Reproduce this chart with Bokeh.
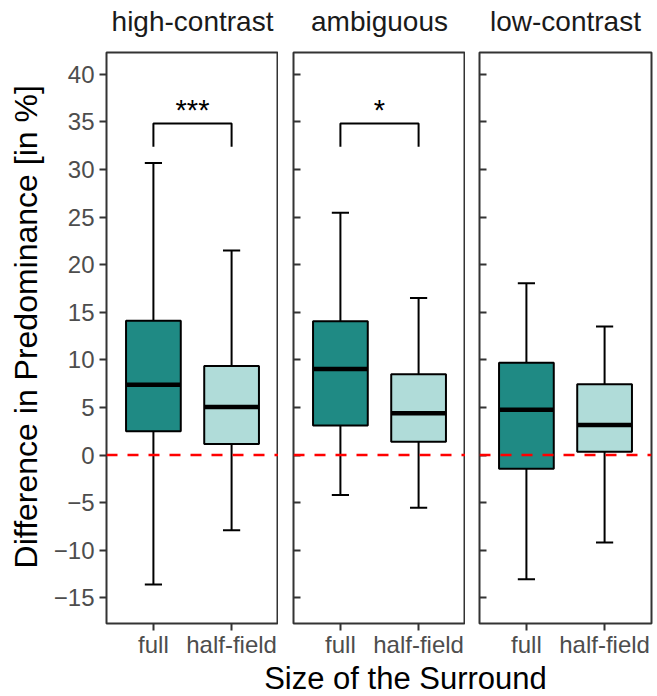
from bokeh.plotting import figure
from bokeh.layouts import row, column
from bokeh.models import ColumnDataSource, Range1d, FixedTicker, Span, Label
from bokeh.core.properties import value
from bokeh.embed import file_html
from bokeh.resources import INLINE
import math

# ---------------- data ----------------
conditions = ["high-contrast", "ambiguous", "low-contrast"]
sizes = ["full", "half-field"]
y_ticks = [-15, -10, -5, 0, 5, 10, 15, 20, 25, 30, 35, 40]

whisker_low = [[-13.6, -7.9], [-4.2, -5.55], [-13.05, -9.2]]
q1_vals = [[2.5, 1.15], [3.1, 1.4], [-1.45, 0.35]]
median_vals = [[7.4, 5.05], [9.05, 4.4], [4.75, 3.15]]
q3_vals = [[14.1, 9.35], [14.05, 8.5], [9.7, 7.45]]
whisker_high = [[30.7, 21.5], [25.45, 16.5], [18.05, 13.5]]

sig_labels = ["***", "*", ""]
sig_top = [34.85, 34.85, None]
sig_tip = [32.4, 32.4, None]

x_title = "Size of the Surround"
y_title = "Difference in Predominance [in %]"

# ---------------- style / layout ----------------
FONT = "Liberation Sans"
fills = ["#1F8A84", "#B0DCD9"]
frame_col = "#333333"
BOX_W = 0.7
CAP_W = 0.22

X0, X1 = 0.4, 2.6
Y0, Y1 = -17.7, 42.3
FRAME_W = 172
FRAME_H = 574
TOP_H = 50          # strip-label band
TOP_B = 2
BOT_B = 34
PANEL_H = TOP_B + FRAME_H + BOT_B
BOTTOM_H = 35
YT_W = 45           # y-title band

widths = [233, 187, 189]
left_borders = [61, 15, 14]
right_borders = [0, 0, 3]
TOTAL_W = YT_W + sum(widths)

# page x of each panel centre
centres = []
acc = YT_W
for w, lb in zip(widths, left_borders):
    centres.append(acc + lb + FRAME_W / 2)
    acc += w

def band(width, height):
    f = figure(width=width, height=height, x_range=Range1d(0, width), y_range=Range1d(0, height),
               output_backend="svg", toolbar_location=None,
               min_border_left=0, min_border_right=0, min_border_top=0, min_border_bottom=0)
    f.axis.visible = False
    f.grid.visible = False
    f.outline_line_color = None
    f.background_fill_color = "white"
    f.border_fill_color = "white"
    return f

# strip labels
top = band(TOTAL_W, TOP_H)
for cond, cx in zip(conditions, centres):
    top.add_layout(Label(x=cx, y=TOP_H - 20.7, text=cond, text_align="center", text_baseline="middle",
                         text_font=FONT, text_font_size="28px", text_color="#1A1A1A"))

# y-axis title band
yband = band(YT_W, PANEL_H)
yband.add_layout(Label(x=25, y=PANEL_H - (343 - TOP_H), text=y_title, angle=math.pi / 2,
                       text_align="center", text_baseline="middle",
                       text_font=FONT, text_font_size="32px", text_color="black"))

panels = []
for i, cond in enumerate(conditions):
    p = figure(width=widths[i], height=PANEL_H,
               x_range=Range1d(X0, X1), y_range=Range1d(Y0, Y1),
               output_backend="svg", toolbar_location=None,
               min_border_left=left_borders[i], min_border_right=right_borders[i],
               min_border_top=TOP_B, min_border_bottom=BOT_B)
    p.background_fill_color = "white"
    p.border_fill_color = "white"
    p.grid.visible = False
    p.outline_line_color = frame_col
    p.outline_line_width = 2
    p.outline_line_alpha = 1

    xs = [j + 1 for j in range(len(sizes))]
    src = ColumnDataSource(dict(
        x=xs,
        lo=whisker_low[i], q1=q1_vals[i], med=median_vals[i],
        q3=q3_vals[i], hi=whisker_high[i], color=fills,
        c0=[x - CAP_W / 2 for x in xs], c1=[x + CAP_W / 2 for x in xs],
        m0=[x - BOX_W / 2 for x in xs], m1=[x + BOX_W / 2 for x in xs],
    ))
    p.segment(x0="x", y0="q3", x1="x", y1="hi", source=src, line_color="black", line_width=2)
    p.segment(x0="x", y0="lo", x1="x", y1="q1", source=src, line_color="black", line_width=2)
    p.segment(x0="c0", y0="hi", x1="c1", y1="hi", source=src, line_color="black", line_width=2)
    p.segment(x0="c0", y0="lo", x1="c1", y1="lo", source=src, line_color="black", line_width=2)
    p.vbar(x="x", width=BOX_W, bottom="q1", top="q3", source=src,
           fill_color="color", line_color="black", line_width=2)
    p.segment(x0="m0", y0="med", x1="m1", y1="med", source=src, line_color="black", line_width=4.5)

    p.add_layout(Span(location=0, dimension="width", line_color="#FF0000",
                      line_width=2.5, line_dash="11 10"))

    if sig_labels[i]:
        p.line(x=[xs[0], xs[0], xs[1], xs[1]],
               y=[sig_tip[i], sig_top[i], sig_top[i], sig_tip[i]],
               line_color="black", line_width=2)
        p.text(x=[(xs[0] + xs[1]) / 2], y=[sig_top[i]], text=[sig_labels[i]],
               text_align="center", text_baseline="alphabetic",
               text_font=value(FONT), text_font_size="29px", text_color="black",
               y_offset=-13)

    # x axis
    xa = p.xaxis[0]
    xa.ticker = FixedTicker(ticks=xs)
    xa.major_label_overrides = {x: s for x, s in zip(xs, sizes)}
    xa.major_label_text_font = FONT
    xa.major_label_text_font_size = "24px"
    xa.major_label_text_color = "#4D4D4D"
    xa.major_label_standoff = 0
    xa.major_tick_out = 7
    xa.major_tick_in = 0
    xa.major_tick_line_color = frame_col
    xa.major_tick_line_width = 2
    xa.minor_tick_out = 0
    xa.minor_tick_in = 0
    xa.axis_line_color = None

    # y axis
    ya = p.yaxis[0]
    ya.ticker = FixedTicker(ticks=y_ticks)
    ya.minor_tick_out = 0
    ya.minor_tick_in = 0
    ya.axis_line_color = None
    ya.major_tick_line_color = frame_col
    ya.major_tick_line_width = 2
    if i == 0:
        ya.major_label_overrides = {t: str(t).replace("-", "\u2212") for t in y_ticks}
        ya.major_label_text_font = FONT
        ya.major_label_text_font_size = "24px"
        ya.major_label_text_color = "#4D4D4D"
        ya.major_label_standoff = 5
        ya.major_tick_out = 7
        ya.major_tick_in = 0
    else:
        ya.major_label_overrides = {t: "" for t in y_ticks}
        ya.major_label_text_font_size = "0px"
        ya.major_label_standoff = 0
        ya.major_tick_out = 0
        ya.major_tick_in = 7
    panels.append(p)

# bottom band holding the common x-axis title
bottom = band(TOTAL_W, BOTTOM_H)
bottom.add_layout(Label(x=405, y=BOTTOM_H / 2, text=x_title, text_align="center", text_baseline="middle",
                        text_font=FONT, text_font_size="31px", text_color="black"))

layout = column(top, row(yband, *panels), bottom)
open("out.html", "w").write(file_html(layout, INLINE))
